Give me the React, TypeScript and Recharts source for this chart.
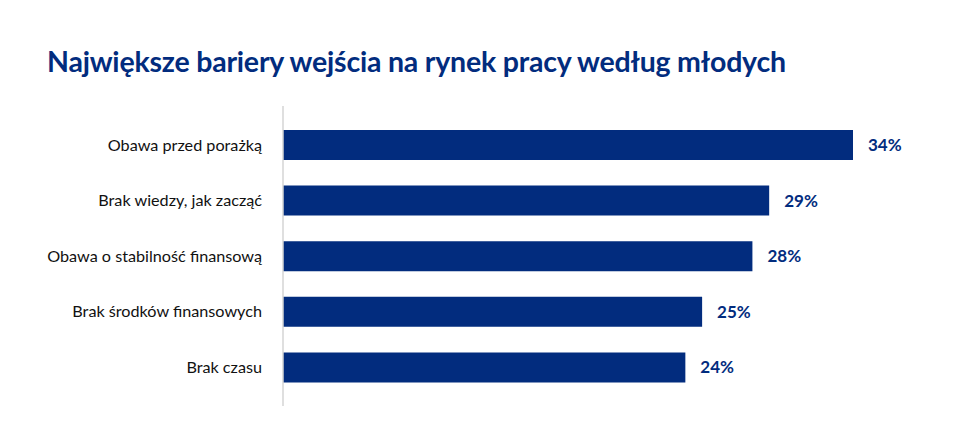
import { BarChart, Bar, XAxis, YAxis, LabelList } from "recharts";

const CATEGORIES = [
  "Obawa przed porażką",
  "Brak wiedzy, jak zacząć",
  "Obawa o stabilność finansową",
  "Brak środków finansowych",
  "Brak czasu",
];
const SHARES = [34, 29, 28, 25, 24];

const NAVY = "#022c7e";
const TITLE = "Największe bariery wejścia na rynek pracy według młodych";

const data = CATEGORIES.map((name, i) => ({ name, value: SHARES[i] }));

export default function App() {
  return (
    <div
      style={{
        position: "absolute",
        left: 0,
        top: 0,
        width: 960,
        height: 433,
        background: "#fff",
        fontFamily: "Lato, sans-serif",
      }}
    >
      <div
        style={{
          position: "absolute",
          left: 47,
          top: 44,
          fontSize: 28.5,
          fontWeight: 700,
          color: NAVY,
          whiteSpace: "nowrap",
          letterSpacing: -0.2,
        }}
      >
        {TITLE}
      </div>
      <BarChart
        width={960}
        height={433}
        data={data}
        layout="vertical"
        margin={{ top: 106, right: 107, bottom: 27, left: 0 }}
      >
        <XAxis type="number" domain={[0, 34]} hide />
        <YAxis
          type="category"
          dataKey="name"
          width={283}
          axisLine={{ stroke: "#d4d4d4", strokeWidth: 1.5 }}
          tickLine={false}
          tickSize={0}
          tickMargin={21}
          padding={{ top: 11, bottom: 11 }}
          tick={{ fill: "#111", fontSize: 16.2 }}
        />
        <Bar dataKey="value" fill={NAVY} barSize={30} isAnimationActive={false}>
          <LabelList
            dataKey="value"
            position="right"
            offset={15}
            formatter={(v: number) => `${v}%`}
            style={{ fill: NAVY, fontSize: 17, fontWeight: 700 }}
          />
        </Bar>
      </BarChart>
    </div>
  );
}
